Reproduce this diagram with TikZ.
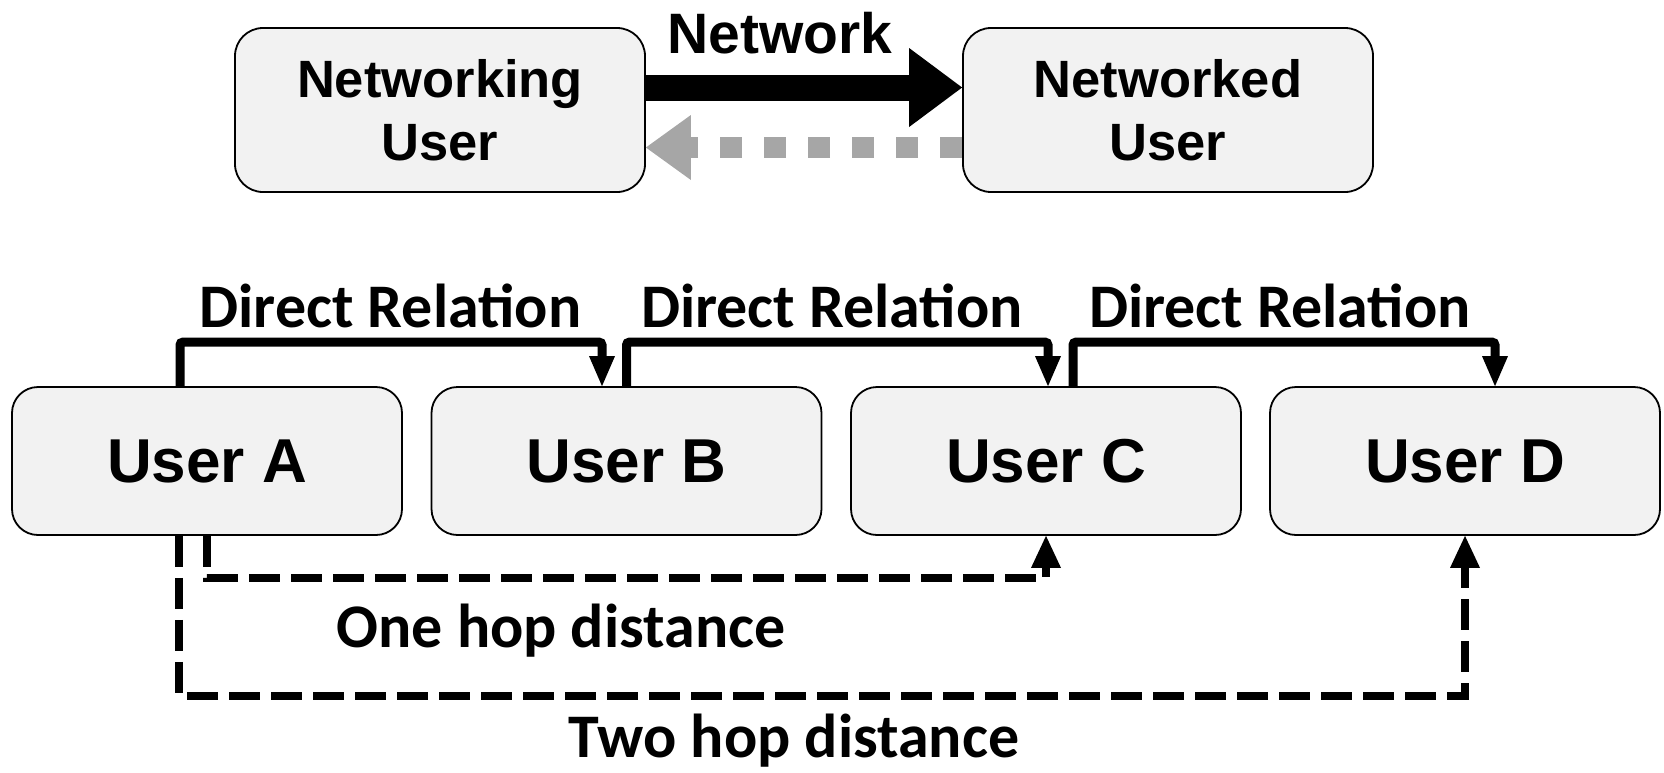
\documentclass[tikz,border=0pt]{standalone}
\usepackage{fontspec}
\setmainfont{Liberation Sans}
\newfontfamily\calibri{Carlito}
\usetikzlibrary{arrows.meta,calc}
\definecolor{boxfill}{HTML}{F2F2F2}
\definecolor{backgray}{HTML}{A6A6A6}
\begin{document}
\begin{tikzpicture}[x=1pt,y=-1pt,
  topbox/.style={draw, line width=1.8pt, fill=boxfill, rounded corners=28pt, minimum width=410pt, minimum height=164pt, align=center, font=\bfseries\fontsize{52.5}{63}\selectfont, inner sep=0pt},
  userbox/.style={draw, line width=1.8pt, fill=boxfill, rounded corners=26pt, minimum width=390pt, minimum height=148pt, font=\bfseries\fontsize{62}{74}\selectfont, inner sep=0pt},
  rel/.style={line width=9pt, rounded corners=3pt, -{Triangle[length=30pt,width=26pt,line width=0pt]}},
  hop/.style={line width=8pt, dash pattern=on 31pt off 11pt, -{Triangle[length=32pt,width=30pt,line width=0pt]}},
  lbl/.style={font=\calibri\bfseries\fontsize{62}{74}\selectfont, anchor=base, inner sep=0pt}]
\useasboundingbox (0,0) rectangle (1664,772);

% top part
\node[topbox] (nu) at (440,110) {Networking\\User};
\node[topbox] (nd) at (1168,110) {Networked\\User};
\draw[line width=26pt, -{Triangle[length=53pt,width=79pt,line width=0pt]}]
  ($(nu.east)+(0,-22.5)$) -- ($(nd.west)+(0,-22.5)$);
\draw[line width=21pt, backgray, dash pattern=on 22pt off 22pt, -{Triangle[length=45pt,width=65pt,line width=0pt]}]
  ($(nd.west)+(0,37.5)$) -- ($(nu.east)+(0,37.5)$);
\node[font=\bfseries\fontsize{57}{68}\selectfont, anchor=base, inner sep=0pt] (nt) at (780,53) {Network};

% users
\node[userbox] (A) at (207,461) {User A};
\node[userbox] (B) at (626.5,461) {User B};
\node[userbox] (C) at (1046,461) {User C};
\node[userbox] (D) at (1465,461) {User D};

% direct relations
\draw[rel] ($(A.north)+(-27,0)$) -- ++(0,-44) -| ($(B.north)+(-24.5,0)$);
\draw[rel] (B.north) -- ++(0,-44) -| ($(C.north)+(2,0)$);
\draw[rel] ($(C.north)+(27,0)$) -- ++(0,-44) -| ($(D.north)+(30,0)$);
\node[lbl] (r1) at (390.5,327) {Direct Relation};
\node[lbl] (r2) at (832,327) {Direct Relation};
\node[lbl] (r3) at (1280,327) {Direct Relation};

% hop distances
\draw[hop] (A.south) -- ++(0,42) -| (C.south);
\draw[hop] ($(A.south)+(-28,0)$) -- ++(0,160) -| (D.south);
\node[lbl] (h1) at (561,647) {One hop distance};
\node[lbl] (h2) at (794,757) {Two hop distance};
\end{tikzpicture}
\end{document}
